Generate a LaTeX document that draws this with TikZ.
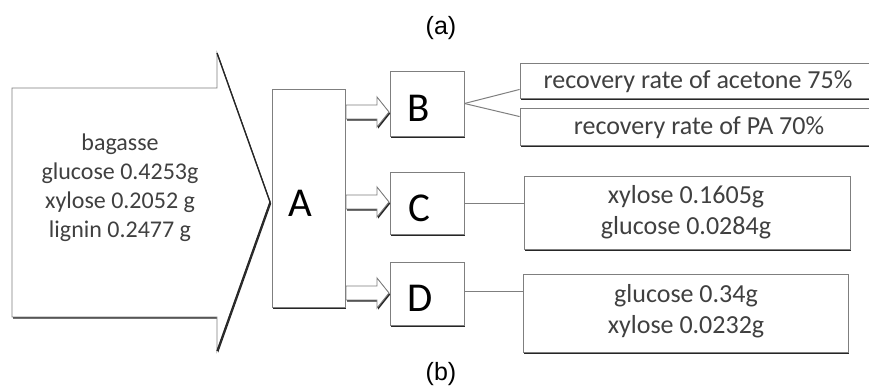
\documentclass[tikz,border=0pt]{standalone}
\usepackage{fontspec}
\setmainfont{Carlito}
\newfontfamily\arialfont{Liberation Sans}
\usetikzlibrary{shadows,calc}
\definecolor{edge}{HTML}{7F7F7F}
\definecolor{shade}{HTML}{262626}
\definecolor{txt}{HTML}{404040}
\tikzset{
  shd/.style={general shadow={fill=shade, shadow xshift=1.2pt, shadow yshift=-1.6pt}},
  box/.style={draw=edge, line width=0.9pt, fill=white, shd, inner sep=0pt},
  desc/.style={text=txt, font=\fontsize{24}{29}\selectfont, align=center, inner sep=0pt},
  descb/.style={text=txt, font=\fontsize{26}{31.5}\selectfont, align=center, inner sep=0pt},
  lettr/.style={font=\fontsize{41}{41}\selectfont, text=black, inner sep=0pt},
  conn/.style={draw=edge, line width=1pt},
  figlbl/.style={font=\arialfont\fontsize{25}{25}\selectfont, text=black, inner sep=0pt},
  headln/.style={draw=shade, line width=1.3pt, line join=miter}
}
\begin{document}
\begin{tikzpicture}[x=1pt,y=-1pt]
\clip (0,0) rectangle (869,388);
\fill[white] (0,0) rectangle (869,388);

% figure labels
\node[figlbl] (la) at (441,28) {(a)};
\node[figlbl] (lb) at (441,374) {(b)};

% big input arrow
\path[box] (12,88) -- (217,88) -- (217,53) -- (270,202) -- (217,351) -- (217,317) -- (12,317) -- cycle;
\draw[headln] (217,53) -- (270,202) -- (217,351);
\node[desc] (feed) at (120,188) {bagasse\\glucose 0.4253g\\xylose 0.2052 g\\lignin 0.2477 g};

% process boxes
\node[box, minimum width=73pt, minimum height=218pt,
      label={[lettr, xshift=-8pt, yshift=-5pt]center:A}] (A) at (308.5,198) {};
\node[box, minimum width=74pt, minimum height=65pt,
      label={[lettr, xshift=-8pt, yshift=-5pt]center:B}] (B) at (427,103.5) {};
\node[box, minimum width=74pt, minimum height=62pt,
      label={[lettr, xshift=-8pt, yshift=-5pt]center:C}] (C) at (427,203) {};
\node[box, minimum width=74pt, minimum height=63pt,
      label={[lettr, xshift=-7pt, yshift=-5pt]center:D}] (D) at (427,293.5) {};

% block arrows A -> B, C, D
\path[box] (346,105) -- (377,105) -- (377,97) -- (389,112) -- (377,127) -- (377,119) -- (346,119) -- cycle;
\path[box] (346,195) -- (377,195) -- (377,187) -- (389,202) -- (377,217) -- (377,209) -- (346,209) -- cycle;
\path[box] (346,286) -- (377,286) -- (377,278) -- (389,293) -- (377,308) -- (377,300) -- (346,300) -- cycle;

% result boxes
\node[box, minimum width=356pt, minimum height=35pt] (R1) at (698,80.5) {};
\node[descb] (t1) at (698,82) {recovery rate of acetone 75\%};
\node[box, minimum width=356pt, minimum height=37pt] (R2) at (698,126.5) {};
\node[descb] (t2) at (699,128) {recovery rate of PA 70\%};
\node[box, minimum width=326pt, minimum height=73pt] (R3) at (687,212.5) {};
\node[descb] (t3) at (686,212) {xylose 0.1605g\\glucose 0.0284g};
\node[box, minimum width=325pt, minimum height=78pt] (R4) at (685.5,313) {};
\node[descb] (t4) at (686,311) {glucose 0.34g\\xylose 0.0232g};

% connectors
\draw[conn] (B.east) -- ([yshift=9pt]R1.south west);
\draw[conn] (B.east) -- ([yshift=-9pt]R2.north west);
\draw[conn] (C.east) -- (C.east -| R3.west);
\draw[conn] ([yshift=2.5pt]D.east) -- ([yshift=2.5pt]D.east -| R4.west);
\end{tikzpicture}
\end{document}
